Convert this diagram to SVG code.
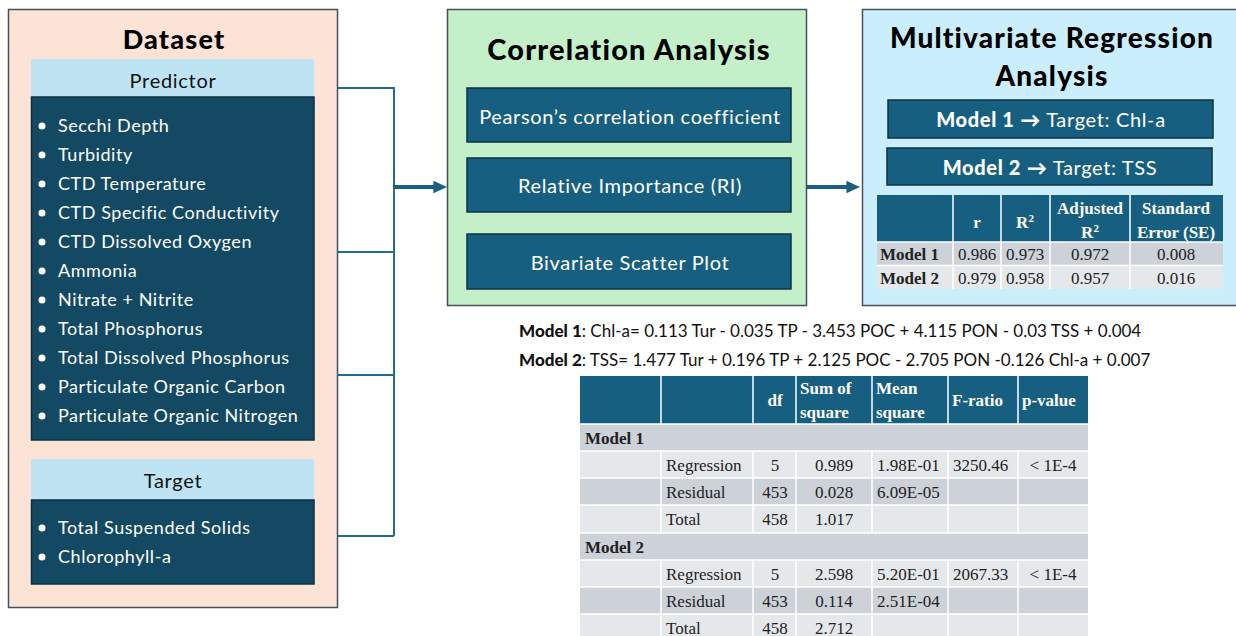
<svg xmlns="http://www.w3.org/2000/svg" width="1236" height="636" viewBox="0 0 1236 636">
<defs>
<style>
.f{font-family:Lato,"Noto Sans","Liberation Sans",sans-serif}
.t{font-family:"Liberation Serif","Times New Roman",serif}
.title{font-family:Lato,"Noto Sans",sans-serif;font-weight:900;fill:#000;letter-spacing:1.2px}
.item{font-family:Lato,"Noto Sans",sans-serif;font-size:18px;fill:#fff;letter-spacing:0.55px}
.btxt{font-family:Lato,"Noto Sans",sans-serif;font-size:20px;fill:#fff;letter-spacing:0.65px}
.box{fill:#175f80;stroke:#0c3246;stroke-width:1.5}
.dark{fill:#134963;stroke:#0b2f40;stroke-width:1.5}
.hdr{fill:#bee4f4}
.th{font-family:"Liberation Serif","Times New Roman",serif;font-weight:bold;fill:#fff;font-size:17px}
.td{font-family:"Liberation Serif","Times New Roman",serif;fill:#222;font-size:17px}
.tdb{font-family:"Liberation Serif","Times New Roman",serif;fill:#222;font-size:17px;font-weight:bold}
.rd{fill:#cdd1d8}
.rl{fill:#e5e8eb}
.grid{stroke:#fff;stroke-width:1.5}
.conn{stroke:#236b93;stroke-width:2;fill:none}
.arrow{stroke:#1a5f80;stroke-width:4;fill:none}
.eq{font-family:Lato,"Noto Sans",sans-serif;font-size:17px;fill:#111}
</style>
<marker id="ah" markerWidth="4" markerHeight="4" refX="1.65" refY="2" orient="auto" markerUnits="strokeWidth">
<path d="M0,0.45 L3.4,2 L0,3.55 Z" fill="#1a5f80"/>
</marker>
</defs>
<rect width="1236" height="636" fill="#fff"/>

<g id="dataset">
<rect x="8.5" y="9.5" width="329" height="598" fill="#fce3d6" stroke="#44505c" stroke-width="1.5"/>
<text class="title" x="174" y="49" font-size="27" text-anchor="middle">Dataset</text>
<g id="predictor">
<rect class="hdr" x="31" y="59" width="283" height="38"/>
<text class="f" x="173" y="88" font-size="20" text-anchor="middle" fill="#111" letter-spacing="0.7">Predictor</text>
<rect class="dark" x="31.5" y="97" width="282.5" height="343"/>
<g fill="#fff">
<circle cx="42" cy="126" r="3.5"/><circle cx="42" cy="155" r="3.5"/><circle cx="42" cy="184" r="3.5"/><circle cx="42" cy="213" r="3.5"/><circle cx="42" cy="242" r="3.5"/><circle cx="42" cy="271" r="3.5"/><circle cx="42" cy="300" r="3.5"/><circle cx="42" cy="329" r="3.5"/><circle cx="42" cy="358" r="3.5"/><circle cx="42" cy="387" r="3.5"/><circle cx="42" cy="416" r="3.5"/>
</g>
<text class="item" x="58" y="132">Secchi Depth</text>
<text class="item" x="58" y="161">Turbidity</text>
<text class="item" x="58" y="190">CTD Temperature</text>
<text class="item" x="58" y="219">CTD Specific Conductivity</text>
<text class="item" x="58" y="248">CTD Dissolved Oxygen</text>
<text class="item" x="58" y="277">Ammonia</text>
<text class="item" x="58" y="306">Nitrate + Nitrite</text>
<text class="item" x="58" y="335">Total Phosphorus</text>
<text class="item" x="58" y="364">Total Dissolved Phosphorus</text>
<text class="item" x="58" y="393">Particulate Organic Carbon</text>
<text class="item" x="58" y="422">Particulate Organic Nitrogen</text>
</g>
<g id="target">
<rect class="hdr" x="31" y="459" width="283" height="41"/>
<text class="f" x="173" y="488" font-size="20" text-anchor="middle" fill="#111" letter-spacing="0.7">Target</text>
<rect class="dark" x="31.5" y="500" width="282.5" height="84"/>
<g fill="#fff"><circle cx="42" cy="528" r="3.5"/><circle cx="42" cy="557" r="3.5"/></g>
<text class="item" x="58" y="534">Total Suspended Solids</text>
<text class="item" x="58" y="563">Chlorophyll-a</text>
</g>
</g>

<g id="connectors">
<path class="conn" d="M338,88 H394 V536 M337,252 H394 M337,375 H394 M338,536 H394"/>
<path class="arrow" d="M394,187 H440" marker-end="url(#ah)"/>
<path class="arrow" d="M807,187 H853" marker-end="url(#ah)"/>
</g>

<g id="correlation">
<rect x="447.5" y="9.5" width="359" height="296" fill="#c4f0c9" stroke="#44505c" stroke-width="1.5"/>
<text class="title" x="629" y="60" font-size="29" text-anchor="middle">Correlation Analysis</text>
<g id="pearson"><rect class="box" x="467" y="88" width="324" height="54"/>
<text class="btxt" x="630" y="124" text-anchor="middle">Pearson’s correlation coefficient</text></g>
<g id="ri"><rect class="box" x="467" y="158" width="324" height="54"/>
<text class="btxt" x="630" y="193" text-anchor="middle">Relative Importance (RI)</text></g>
<g id="scatter"><rect class="box" x="467" y="234" width="324" height="55"/>
<text class="btxt" x="630" y="270" text-anchor="middle">Bivariate Scatter Plot</text></g>
</g>

<g id="regression">
<rect x="862.5" y="9.5" width="380" height="296" fill="#caeefb" stroke="#44505c" stroke-width="1.5"/>
<text class="title" x="1052" y="48" font-size="28" text-anchor="middle">Multivariate Regression</text>
<text class="title" x="1052" y="86" font-size="28" text-anchor="middle">Analysis</text>
<g id="model1"><rect class="box" x="888" y="100" width="325" height="38"/>
<text class="btxt" x="1051" y="127" text-anchor="middle" letter-spacing="1"><tspan font-weight="900">Model 1</tspan> <tspan font-weight="900">→</tspan> Target: Chl-a</text></g>
<g id="model2"><rect class="box" x="887" y="148" width="325" height="37"/>
<text class="btxt" x="1050" y="175" text-anchor="middle" letter-spacing="1"><tspan font-weight="900">Model 2</tspan> <tspan font-weight="900">→</tspan> Target: TSS</text></g>
<g id="fit-table">
<rect x="877" y="195" width="346" height="47" fill="#175f80"/>
<rect class="rd" x="877" y="242" width="346" height="23.5"/>
<rect class="rl" x="877" y="265.5" width="346" height="23.5"/>
<path class="grid" d="M953,195 V289 M1001,195 V289 M1050,195 V289 M1130,195 V289 M877,242 H1223 M877,265.5 H1223"/>
<text class="th" x="977" y="228" text-anchor="middle">r</text>
<text class="th" x="1025" y="228" text-anchor="middle">R<tspan font-size="11" dy="-6">2</tspan></text>
<text class="th" x="1090" y="214" text-anchor="middle" font-size="18">Adjusted</text>
<text class="th" x="1090" y="238" text-anchor="middle">R<tspan font-size="11" dy="-6">2</tspan></text>
<text class="th" x="1176" y="214" text-anchor="middle" font-size="18">Standard</text>
<text class="th" x="1176" y="238" text-anchor="middle" font-size="18">Error (SE)</text>
<text class="tdb" x="880" y="260">Model 1</text>
<text class="td" x="977" y="260" text-anchor="middle">0.986</text>
<text class="td" x="1025" y="260" text-anchor="middle">0.973</text>
<text class="td" x="1090" y="260" text-anchor="middle">0.972</text>
<text class="td" x="1176" y="260" text-anchor="middle">0.008</text>
<text class="tdb" x="880" y="284">Model 2</text>
<text class="td" x="977" y="284" text-anchor="middle">0.979</text>
<text class="td" x="1025" y="284" text-anchor="middle">0.958</text>
<text class="td" x="1090" y="284" text-anchor="middle">0.957</text>
<text class="td" x="1176" y="284" text-anchor="middle">0.016</text>
</g>
</g>

<g id="equations">
<text class="eq" x="519" y="337"><tspan font-weight="900">Model 1</tspan>: Chl-a= 0.113 Tur - 0.035 TP - 3.453 POC + 4.115 PON - 0.03 TSS + 0.004</text>
<text class="eq" x="519" y="366"><tspan font-weight="900">Model 2</tspan>: TSS= 1.477 Tur + 0.196 TP + 2.125 POC - 2.705 PON -0.126 Chl-a + 0.007</text>
</g>

<g id="anova-table">
<rect x="580" y="376" width="508" height="48" fill="#175f80"/>
<rect class="rd" x="580" y="424" width="508" height="27"/>
<rect class="rl" x="580" y="451" width="508" height="27"/>
<rect class="rd" x="580" y="478" width="508" height="27"/>
<rect class="rl" x="580" y="505" width="508" height="28"/>
<rect class="rd" x="580" y="533" width="508" height="27"/>
<rect class="rl" x="580" y="560" width="508" height="27"/>
<rect class="rd" x="580" y="587" width="508" height="27"/>
<rect class="rl" x="580" y="614" width="508" height="22"/>
<path class="grid" d="M661,376 V424 M753,376 V424 M796,376 V424 M872,376 V424 M948,376 V424 M1018,376 V424 M661,451 V533 M753,451 V533 M796,451 V533 M872,451 V533 M948,451 V533 M1018,451 V533 M661,560 V636 M753,560 V636 M796,560 V636 M872,560 V636 M948,560 V636 M1018,560 V636 M580,424 H1088 M580,451 H1088 M580,478 H1088 M580,505 H1088 M580,533 H1088 M580,560 H1088 M580,587 H1088 M580,614 H1088"/>
<text class="th" x="775" y="406" text-anchor="middle">df</text>
<text class="th" x="800" y="394">Sum of</text>
<text class="th" x="800" y="418">square</text>
<text class="th" x="876" y="394">Mean</text>
<text class="th" x="876" y="418">square</text>
<text class="th" x="952" y="406">F-ratio</text>
<text class="th" x="1022" y="406">p-value</text>
<g class="t" font-size="18">
<text class="tdb" x="585" y="444" font-size="18">Model 1</text>
<text class="td" x="666" y="471" font-size="18">Regression</text>
<text class="td" x="775" y="471" font-size="18" text-anchor="middle">5</text>
<text class="td" x="834" y="471" font-size="18" text-anchor="middle">0.989</text>
<text class="td" x="877" y="471" font-size="18">1.98E-01</text>
<text class="td" x="953" y="471" font-size="18">3250.46</text>
<text class="td" x="1053" y="471" font-size="18" text-anchor="middle">&lt; 1E-4</text>
<text class="td" x="666" y="498" font-size="18">Residual</text>
<text class="td" x="775" y="498" font-size="18" text-anchor="middle">453</text>
<text class="td" x="834" y="498" font-size="18" text-anchor="middle">0.028</text>
<text class="td" x="877" y="498" font-size="18">6.09E-05</text>
<text class="td" x="666" y="525" font-size="18">Total</text>
<text class="td" x="775" y="525" font-size="18" text-anchor="middle">458</text>
<text class="td" x="834" y="525" font-size="18" text-anchor="middle">1.017</text>
<text class="tdb" x="585" y="553" font-size="18">Model 2</text>
<text class="td" x="666" y="580" font-size="18">Regression</text>
<text class="td" x="775" y="580" font-size="18" text-anchor="middle">5</text>
<text class="td" x="834" y="580" font-size="18" text-anchor="middle">2.598</text>
<text class="td" x="877" y="580" font-size="18">5.20E-01</text>
<text class="td" x="953" y="580" font-size="18">2067.33</text>
<text class="td" x="1053" y="580" font-size="18" text-anchor="middle">&lt; 1E-4</text>
<text class="td" x="666" y="607" font-size="18">Residual</text>
<text class="td" x="775" y="607" font-size="18" text-anchor="middle">453</text>
<text class="td" x="834" y="607" font-size="18" text-anchor="middle">0.114</text>
<text class="td" x="877" y="607" font-size="18">2.51E-04</text>
<text class="td" x="666" y="634" font-size="18">Total</text>
<text class="td" x="775" y="634" font-size="18" text-anchor="middle">458</text>
<text class="td" x="834" y="634" font-size="18" text-anchor="middle">2.712</text>
</g>
</g>
</svg>
